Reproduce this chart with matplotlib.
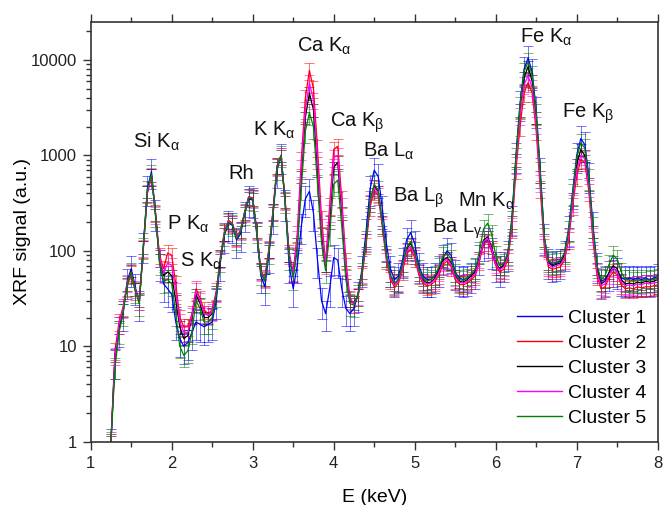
import numpy as np
import matplotlib
matplotlib.use("Agg")
import matplotlib.pyplot as plt
from matplotlib.lines import Line2D
from matplotlib.ticker import LogLocator, NullFormatter, FixedLocator

plt.rcParams["font.family"] = ["Liberation Sans", "DejaVu Sans"]
plt.rcParams["mathtext.fontset"] = "custom"
plt.rcParams["mathtext.rm"] = "Liberation Sans"
plt.rcParams["mathtext.it"] = "Liberation Sans"

# energy channels (keV), one every 0.05 keV
energy = np.round(np.arange(1.25, 8.001, 0.05), 2)

# mean XRF signal per cluster
cluster1 = [1, 7, 15, 22, 48, 65, 42, 28, 115, 450,
            680, 250, 75, 45, 40, 35, 18, 12, 10, 11,
            14, 18, 17, 16, 17, 18, 30, 75, 145, 195,
            185, 130, 150, 240, 350, 340, 150, 55, 42, 90,
            230, 700, 980, 320, 70, 40, 70, 180, 350, 420,
            250, 80, 30, 22, 40, 85, 80, 40, 25, 22,
            25, 35, 65, 160, 450, 700, 600, 280, 120, 65,
            50, 55, 80, 130, 155, 120, 70, 55, 50, 50,
            55, 65, 85, 100, 90, 60, 52, 50, 52, 55,
            62, 85, 120, 130, 100, 72, 65, 72, 95, 220,
            1000, 3500, 8000, 10500, 7500, 3000, 700, 140, 78, 72,
            74, 78, 95, 170, 420, 1000, 1500, 1300, 620, 190,
            70, 48, 50, 58, 65, 62, 52, 50, 52, 50,
            52, 50, 52, 50, 52, 54]
cluster2 = [1, 9, 18, 26, 42, 58, 38, 30, 105, 400,
            600, 250, 90, 65, 95, 90, 45, 20, 16, 16,
            22, 40, 32, 24, 22, 24, 38, 85, 160, 210,
            195, 140, 165, 255, 370, 360, 165, 62, 52, 105,
            260, 780, 1000, 340, 95, 60, 150, 900, 4000, 7800,
            5000, 1200, 220, 75, 300, 1150, 1250, 350, 80, 32,
            28, 33, 55, 115, 290, 430, 380, 180, 80, 50,
            42, 46, 62, 92, 105, 85, 56, 46, 43, 44,
            48, 56, 72, 78, 68, 50, 45, 44, 46, 50,
            55, 78, 118, 125, 100, 70, 60, 64, 80, 170,
            700, 2000, 4500, 5800, 4500, 1800, 450, 110, 68, 64,
            66, 68, 80, 130, 300, 600, 900, 850, 420, 130,
            55, 40, 42, 52, 60, 56, 44, 40, 41, 40,
            42, 41, 42, 42, 43, 44]
cluster3 = [1, 8, 16, 24, 45, 62, 40, 30, 110, 420,
            620, 240, 80, 55, 60, 55, 30, 16, 12, 13,
            20, 35, 28, 20, 20, 22, 35, 80, 150, 200,
            190, 135, 160, 250, 360, 350, 160, 60, 50, 100,
            250, 750, 1000, 330, 90, 55, 120, 600, 2500, 4500,
            3000, 700, 150, 70, 200, 750, 850, 250, 60, 30,
            28, 35, 60, 130, 330, 480, 420, 200, 90, 55,
            45, 50, 70, 105, 120, 95, 62, 50, 46, 47,
            52, 62, 80, 85, 75, 55, 48, 47, 50, 55,
            60, 85, 130, 140, 110, 75, 65, 70, 90, 200,
            900, 3000, 6500, 8500, 6000, 2500, 600, 130, 75, 70,
            72, 75, 90, 150, 350, 800, 1150, 1000, 500, 160,
            65, 45, 48, 60, 70, 65, 50, 45, 46, 45,
            47, 46, 48, 47, 48, 50]
cluster4 = [1, 8, 17, 25, 46, 60, 40, 30, 108, 410,
            610, 240, 85, 58, 75, 70, 38, 18, 14, 14,
            21, 38, 30, 22, 21, 23, 36, 82, 155, 205,
            192, 138, 162, 252, 365, 355, 162, 60, 51, 102,
            255, 760, 1000, 335, 92, 58, 135, 750, 3000, 5800,
            3800, 900, 180, 72, 250, 950, 1000, 300, 70, 31,
            28, 34, 58, 125, 320, 460, 400, 190, 85, 52,
            44, 48, 66, 98, 112, 90, 60, 48, 45, 46,
            50, 60, 76, 82, 72, 53, 47, 46, 48, 52,
            58, 82, 125, 135, 105, 73, 63, 68, 86, 185,
            800, 2600, 5500, 6800, 5200, 2100, 520, 120, 72, 67,
            70, 72, 86, 140, 320, 700, 1000, 920, 460, 145,
            60, 43, 45, 56, 66, 60, 47, 43, 44, 43,
            45, 44, 46, 45, 46, 47]
cluster5 = [1, 6, 14, 22, 44, 60, 38, 28, 110, 430,
            640, 235, 75, 48, 50, 45, 22, 10, 8, 9,
            14, 30, 25, 18, 18, 20, 34, 80, 150, 200,
            190, 135, 160, 250, 360, 350, 160, 58, 48, 98,
            245, 740, 1000, 330, 85, 52, 100, 450, 1800, 2800,
            2000, 500, 120, 62, 150, 500, 550, 180, 50, 28,
            27, 35, 60, 130, 340, 500, 430, 200, 90, 56,
            46, 50, 72, 108, 125, 98, 64, 52, 48, 50,
            56, 68, 88, 95, 82, 58, 50, 49, 52, 58,
            65, 100, 170, 195, 150, 90, 70, 74, 95, 210,
            950, 3300, 7500, 9500, 7000, 2800, 680, 140, 80, 74,
            76, 80, 96, 165, 400, 950, 1350, 1200, 580, 180,
            70, 50, 55, 72, 90, 82, 60, 50, 50, 48,
            50, 48, 50, 49, 50, 52]

labels = ["Cluster 1", "Cluster 2", "Cluster 3", "Cluster 4", "Cluster 5"]
colors = ["#0000ff", "#ff0000", "#000000", "#ff00ff", "#008000"]
rel_err = [0.35, 0.2, 0.15, 0.2, 0.25]  # relative spread within each cluster

# peak labels: (text, energy, signal) at the text baseline
peak_names = [r"Si K$_{\alpha}$", r"P K$_{\alpha}$", r"S K$_{\alpha}$", "Rh",
              r"K K$_{\alpha}$", r"Ca K$_{\alpha}$", r"Ca K$_{\beta}$",
              r"Ba L$_{\alpha}$", r"Ba L$_{\beta}$", r"Ba L$_{\gamma}$",
              r"Mn K$_{\alpha}$", r"Fe K$_{\alpha}$", r"Fe K$_{\beta}$"]
peak_x = [1.522, 1.936, 2.102, 2.695, 3.004, 3.547, 3.954,
          4.362, 4.732, 5.214, 5.535, 6.300, 6.822]
peak_y = [1200, 166, 68, 567, 1600, 12200, 1990,
          965, 326, 154, 288, 15100, 2470]

fig = plt.figure(figsize=(6.63, 5.05), dpi=100)
ax = fig.add_axes([0.1368, 0.1253, 0.8552, 0.8311])

series = [cluster1, cluster2, cluster3, cluster4, cluster5]
for vals, col, rel in zip(series, colors, rel_err):
    y = np.array(vals, dtype=float)
    ax.errorbar(energy, y, yerr=rel * y, fmt="none", ecolor=col, alpha=0.55,
                elinewidth=0.7, capsize=3.6, capthick=0.7)
for vals, col in zip(series, colors):
    ax.plot(energy, vals, color=col, lw=0.9)

ax.set_yscale("log")
ax.set_xlim(1, 8)
ax.set_ylim(1, 25000)

ax.xaxis.set_major_locator(FixedLocator([1, 2, 3, 4, 5, 6, 7, 8]))
ax.xaxis.set_minor_locator(FixedLocator(np.arange(1.5, 8, 1.0)))
ax.yaxis.set_major_locator(LogLocator(base=10, numticks=10))
ax.yaxis.set_minor_locator(LogLocator(base=10, subs=np.arange(2, 10), numticks=20))
ax.yaxis.set_minor_formatter(NullFormatter())
ax.set_yticks([1, 10, 100, 1000, 10000])
ax.set_yticklabels(["1", "10", "100", "1000", "10000"])
ax.set_xticklabels(["1", "2", "3", "4", "5", "6", "7", "8"])

ax.tick_params(which="both", direction="out", top=True, right=False,
               color="#333333", width=1.0, labelsize=12, labelcolor="#222222")
ax.tick_params(which="major", length=6, pad=4)
ax.tick_params(which="minor", length=3.5)
for sp in ax.spines.values():
    sp.set_linewidth(1.2)
    sp.set_color("#333333")

ax.set_xlabel("E (keV)", fontsize=14, labelpad=13)
ax.set_ylabel("XRF signal (a.u.)", fontsize=14, labelpad=0)

for name, px, py in zip(peak_names, peak_x, peak_y):
    ax.text(px, py, name, fontsize=14.5, ha="left", va="baseline", color="#111111")

handles = [Line2D([0], [0], color=c, lw=1.0) for c in colors]
ax.legend(handles, labels, loc="upper left", bbox_to_anchor=(0.752, 0.316),
          frameon=False, fontsize=14, handlelength=2.3, handletextpad=0.3,
          labelspacing=0.38, borderpad=0, borderaxespad=0)

fig.savefig("out.png", dpi=100)
